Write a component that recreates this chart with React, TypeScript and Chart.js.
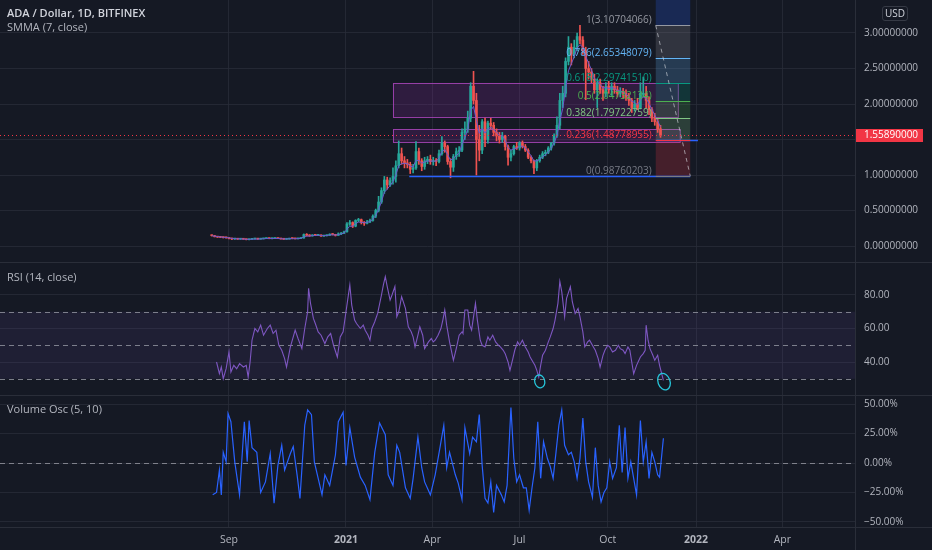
import React, { useEffect, useRef } from 'react';
import { Chart, registerables } from 'chart.js';
Chart.register(...registerables);

// ---------- styling constants ----------
const BG = '#151924';
const GRID = 'rgba(42,46,57,0.75)';
const SEP = '#2a2e39';
const TEXT = '#b2b5be';
const FONT = "'Open Sans', 'Noto Sans', sans-serif";
const W = 932;
const AXIS_W = 77;
const UP = '#26a69a';
const DOWN = '#ef5350';

// ---------- x axis (days since 2020-09-01) ----------
const X_MIN = -238.8;
const X_MAX = 652.8;
const tickDays = [0, 122, 212, 303, 395, 487, 577];
const tickLabels = ['Sep', '2021', 'Apr', 'Jul', 'Oct', '2022', 'Apr'];

// ---------- price candles (3-day candles from 2020-08-14 = day -18) ----------
const candleStartDay = -18;
const candleStepDays = 3;
const opens = [
  0.150, 0.145, 0.130, 0.125, 0.122, 0.118, 0.115, 0.106, 0.098, 0.100,
  0.096, 0.101, 0.095, 0.089, 0.094, 0.099, 0.100, 0.097, 0.101, 0.105,
  0.110, 0.104, 0.106, 0.109, 0.105, 0.099, 0.095, 0.097, 0.108, 0.104,
  0.101, 0.106, 0.112, 0.160, 0.150, 0.142, 0.155, 0.150, 0.156, 0.140,
  0.145, 0.150, 0.166, 0.160, 0.150, 0.170, 0.182, 0.200, 0.310, 0.330,
  0.280, 0.360, 0.370, 0.330, 0.320, 0.340, 0.360, 0.420, 0.500, 0.620,
  0.780, 0.930, 0.860, 0.920, 0.980, 1.130, 1.300, 1.200, 1.170, 1.150,
  1.080, 1.100, 1.330, 1.200, 1.120, 1.200, 1.220, 1.190, 1.200, 1.190,
  1.300, 1.450, 1.400, 1.190, 1.110, 1.260, 1.330, 1.350, 1.600, 1.650,
  1.800, 2.250, 2.050, 1.500, 1.350, 1.750, 1.500, 1.730, 1.700, 1.600,
  1.550, 1.500, 1.550, 1.400, 1.250, 1.300, 1.400, 1.380, 1.450, 1.400,
  1.350, 1.250, 1.200, 1.100, 1.200, 1.250, 1.300, 1.320, 1.380, 1.450,
  1.550, 1.700, 2.050, 2.150, 2.600, 2.800, 2.700, 2.800, 2.950, 2.900,
  2.750, 2.500, 2.450, 2.350, 2.200, 2.300, 2.200, 2.150, 2.250, 2.200,
  2.250, 2.200, 2.150, 2.180, 2.150, 2.100, 2.050, 1.950, 2.000, 1.950,
  2.150, 2.150, 2.050, 1.920, 1.800, 1.750, 1.650,
];
const highs = [
  0.155, 0.150, 0.135, 0.130, 0.127, 0.124, 0.118, 0.110, 0.104, 0.106,
  0.104, 0.105, 0.099, 0.097, 0.101, 0.103, 0.102, 0.103, 0.107, 0.112,
  0.113, 0.108, 0.112, 0.113, 0.107, 0.101, 0.099, 0.110, 0.112, 0.106,
  0.108, 0.115, 0.170, 0.175, 0.160, 0.160, 0.165, 0.162, 0.158, 0.148,
  0.155, 0.172, 0.175, 0.165, 0.185, 0.190, 0.210, 0.330, 0.360, 0.340,
  0.370, 0.390, 0.380, 0.345, 0.360, 0.380, 0.440, 0.520, 0.700, 0.820,
  0.980, 0.970, 0.960, 1.100, 1.200, 1.480, 1.380, 1.260, 1.220, 1.180,
  1.150, 1.470, 1.380, 1.230, 1.250, 1.260, 1.280, 1.250, 1.230, 1.350,
  1.540, 1.480, 1.420, 1.230, 1.290, 1.380, 1.400, 1.650, 1.750, 1.900,
  2.300, 2.460, 2.150, 1.700, 1.780, 1.800, 1.760, 1.800, 1.740, 1.650,
  1.600, 1.600, 1.560, 1.420, 1.350, 1.420, 1.460, 1.470, 1.480, 1.430,
  1.370, 1.270, 1.210, 1.220, 1.280, 1.330, 1.350, 1.400, 1.460, 1.580,
  1.820, 2.150, 2.250, 2.650, 2.950, 2.850, 2.900, 3.000, 3.107, 2.950,
  2.800, 2.600, 2.500, 2.420, 2.350, 2.350, 2.250, 2.300, 2.320, 2.300,
  2.300, 2.250, 2.230, 2.220, 2.200, 2.150, 2.080, 2.050, 2.080, 2.300,
  2.380, 2.250, 2.100, 1.950, 1.870, 1.800, 1.700,
];
const lows = [
  0.140, 0.128, 0.120, 0.118, 0.112, 0.110, 0.100, 0.090, 0.092, 0.094,
  0.093, 0.094, 0.086, 0.085, 0.092, 0.096, 0.094, 0.096, 0.099, 0.104,
  0.102, 0.100, 0.104, 0.103, 0.097, 0.092, 0.093, 0.096, 0.101, 0.098,
  0.100, 0.104, 0.110, 0.140, 0.135, 0.138, 0.145, 0.146, 0.136, 0.134,
  0.140, 0.148, 0.155, 0.140, 0.148, 0.160, 0.175, 0.195, 0.290, 0.260,
  0.270, 0.340, 0.310, 0.290, 0.310, 0.330, 0.350, 0.400, 0.480, 0.600,
  0.740, 0.800, 0.840, 0.870, 0.900, 1.100, 1.150, 1.100, 1.100, 1.020,
  1.030, 1.080, 1.150, 1.060, 1.080, 1.160, 1.150, 1.140, 1.130, 1.170,
  1.280, 1.320, 1.150, 0.960, 1.050, 1.220, 1.260, 1.330, 1.500, 1.600,
  1.750, 2.000, 1.000, 1.200, 1.300, 1.400, 1.450, 1.650, 1.550, 1.480,
  1.450, 1.460, 1.350, 1.140, 1.200, 1.280, 1.360, 1.350, 1.380, 1.330,
  1.230, 1.170, 1.020, 1.060, 1.180, 1.230, 1.270, 1.300, 1.350, 1.420,
  1.530, 1.650, 1.950, 2.100, 2.550, 2.550, 2.650, 2.750, 2.850, 2.700,
  2.060, 2.350, 2.300, 2.150, 1.950, 2.150, 2.050, 2.100, 2.150, 2.120,
  2.150, 2.100, 2.100, 2.080, 2.050, 1.980, 1.880, 1.900, 1.920, 1.930,
  2.100, 1.950, 1.850, 1.750, 1.700, 1.600, 1.530,
];
const closes = [
  0.145, 0.130, 0.125, 0.122, 0.118, 0.115, 0.106, 0.098, 0.100, 0.096,
  0.101, 0.095, 0.089, 0.094, 0.099, 0.100, 0.097, 0.101, 0.105, 0.110,
  0.104, 0.106, 0.109, 0.105, 0.099, 0.095, 0.097, 0.108, 0.104, 0.101,
  0.106, 0.112, 0.160, 0.150, 0.142, 0.155, 0.150, 0.156, 0.140, 0.145,
  0.150, 0.166, 0.160, 0.150, 0.170, 0.182, 0.200, 0.310, 0.330, 0.280,
  0.360, 0.370, 0.330, 0.320, 0.340, 0.360, 0.420, 0.500, 0.620, 0.780,
  0.930, 0.860, 0.920, 0.980, 1.130, 1.300, 1.200, 1.170, 1.150, 1.080,
  1.100, 1.330, 1.200, 1.120, 1.200, 1.220, 1.190, 1.200, 1.190, 1.300,
  1.450, 1.400, 1.190, 1.110, 1.260, 1.330, 1.350, 1.600, 1.650, 1.800,
  2.250, 2.050, 1.500, 1.350, 1.750, 1.500, 1.730, 1.700, 1.600, 1.550,
  1.500, 1.550, 1.400, 1.250, 1.300, 1.400, 1.380, 1.450, 1.400, 1.350,
  1.250, 1.200, 1.100, 1.200, 1.250, 1.300, 1.320, 1.380, 1.450, 1.550,
  1.700, 2.050, 2.150, 2.600, 2.800, 2.700, 2.800, 2.950, 2.900, 2.750,
  2.500, 2.450, 2.350, 2.200, 2.300, 2.200, 2.150, 2.250, 2.200, 2.250,
  2.200, 2.150, 2.180, 2.150, 2.100, 2.050, 1.950, 2.000, 1.950, 2.150,
  2.150, 2.050, 1.920, 1.800, 1.750, 1.650, 1.559,
];
const lastPrice = 1.5589;
const smmaLength = 7;

// ---------- RSI (14, close) ----------
const rsiDays = [
  -13, -10, -8, -6, -3, 0, 2, 5, 8, 11, 15, 18, 20, 22, 24, 27, 30, 33, 36, 40,
  43, 46, 49, 52, 55, 58, 60, 64, 67, 69, 72, 76, 79, 82, 83, 85, 88, 90, 93, 96,
  100, 103, 106, 109, 113, 116, 119, 122, 124, 126, 128, 131, 133, 137, 140, 142, 145, 147, 149, 152,
  155, 159, 161, 163, 165, 168, 170, 173, 175, 177, 180, 184, 187, 190, 192, 194, 197, 199, 202, 204,
  208, 211, 213, 215, 218, 221, 223, 225, 227, 230, 234, 237, 240, 243, 244, 246, 249, 251, 253, 257,
  259, 262, 264, 267, 270, 272, 275, 278, 281, 283, 286, 288, 291, 293, 296, 298, 301, 303, 306, 309,
  312, 314, 317, 319, 321, 323, 325, 327, 330, 333, 335, 338, 340, 343, 345, 347, 349, 350, 352, 356,
  358, 361, 364, 366, 369, 371, 374, 376, 380, 382, 385, 387, 390, 392, 395, 397, 400, 403, 406, 408,
  411, 413, 416, 418, 420, 422, 425, 429, 432, 434, 435, 437, 439, 442, 444, 447, 449, 453,
];
const rsiValues = [
  40, 33, 37, 30, 36, 46, 34, 38, 36, 39, 37, 38, 31, 40, 53, 60, 58, 62, 56, 60,
  62, 57, 59, 50, 47, 42, 37, 49, 55, 59, 54, 48, 60, 70, 84, 75, 66, 63, 58, 56,
  51, 55, 57, 50, 43, 55, 58, 70, 78, 86, 74, 65, 63, 60, 62, 59, 56, 53, 60, 64,
  69, 80, 86, 91, 85, 77, 80, 85, 67, 70, 79, 72, 61, 58, 55, 49, 56, 61, 56, 48,
  52, 54, 52, 53, 56, 60, 65, 71, 62, 52, 41, 48, 56, 58, 57, 71, 71, 62, 59, 75,
  65, 53, 50, 49, 55, 53, 56, 52, 50, 49, 47, 45, 40, 35, 42, 47, 52, 50, 53, 49,
  46, 43, 40, 38, 35, 31, 38, 44, 47, 52, 55, 60, 65, 75, 88, 82, 72, 67, 78, 85,
  76, 69, 72, 67, 58, 49, 52, 53, 49, 47, 42, 37, 44, 47, 50, 49, 46, 47, 50, 48,
  47, 45, 49, 47, 40, 33, 38, 43, 45, 47, 62, 53, 48, 44, 41, 44, 38, 29,
];
const rsiBandLow = 30;
const rsiMid = 50;
const rsiBandHigh = 70;
const rsiMarks = [
  { day: 324, value: 28.4 },
  { day: 453.6, value: 28.3 },
];

// ---------- Volume Oscillator (5, 10) ----------
const volDays = [
  -17, -13, -10, -8, -6, -3, -1, 2, 6, 11, 16, 19, 21, 24, 29, 33, 38, 43, 47, 51,
  55, 58, 64, 67, 71, 74, 79, 82, 86, 89, 93, 97, 100, 105, 111, 114, 119, 122, 126, 131,
  137, 142, 147, 152, 157, 163, 166, 171, 175, 178, 184, 189, 192, 197, 201, 204, 210, 215, 220, 224,
  227, 230, 236, 239, 243, 246, 251, 254, 258, 261, 264, 267, 270, 273, 276, 279, 284, 287, 290, 294,
  297, 300, 303, 307, 310, 313, 316, 319, 322, 325, 328, 332, 335, 338, 341, 344, 347, 350, 354, 357,
  360, 363, 366, 369, 372, 375, 379, 382, 385, 388, 391, 394, 397, 400, 404, 407, 410, 413, 416, 419,
  422, 425, 429, 432, 435, 438, 441, 444, 447, 449, 453,
];
const volValues = [
  -27, -25, -6, -27, 9, 1, 42, 35, 1, -27, 35, 1, 36, 13, 9, -25, -16, 8, -34, -2,
  15, -6, 8, 14, -10, -30, 32, 45, 41, 1, -13, -27, -10, -19, 7, 35, 43, -2, 30, 5,
  -12, -19, -31, 9, 34, 24, -10, -19, 15, 9, -21, -30, -13, 22, -4, -16, -27, -10, 13, 32,
  -4, 9, -10, -17, -31, 30, 8, 22, 18, 41, -2, -30, -34, -16, -42, -19, -27, -33, -19, 47,
  4, -16, -10, -21, -21, -40, -21, -4, 35, -13, 18, 4, -3, -13, 9, 32, 45, 15, 7, 9,
  1, -13, 4, 38, 1, -16, -29, 13, -19, -33, -25, -21, 1, -13, -4, 32, -8, 30, -13, 1,
  -13, -27, 36, 1, 18, -13, 9, 1, -10, -12, 21,
];

// ---------- drawings on the price pane ----------
const boxes = [
  { fromDay: 171, toDay: 468, top: 2.296, bottom: 1.817 },
  { fromDay: 171, toDay: 470, top: 1.648, bottom: 1.465 },
];
const supportLines = [
  { fromDay: 188, toDay: 481, price: 0.9876 },
  { fromDay: 446, toDay: 489, price: 1.4878 },
];
const fibLow = 0.98760203;
const fibHigh = 3.10704066;
const fibFromDay = 445;
const fibToDay = 481;
const fibLevels = [0, 0.236, 0.382, 0.5, 0.618, 0.786, 1, 1.618];
const fibColors = ['#787b86', '#f23645', '#81c784', '#4caf50', '#089981', '#64b5f6', '#9598a1', '#2962ff'];
const fibShown = [true, true, true, true, true, true, true, false];

const mainTicks = [0, 0.5, 1, 1.5, 2, 2.5, 3];
const rsiTicks = [40, 60, 80];
const volTicks = [-50, -25, 0, 25, 50];

function rgba(hex: string, a: number) {
  const n = parseInt(hex.slice(1), 16);
  return `rgba(${(n >> 16) & 255},${(n >> 8) & 255},${n & 255},${a})`;
}

function makeX(showLabels: boolean): any {
  return {
    type: 'linear',
    min: X_MIN,
    max: X_MAX,
    offset: false,
    afterBuildTicks: (s: any) => { s.ticks = tickDays.map((v) => ({ value: v })); },
    afterFit: (s: any) => { s.height = showLabels ? 23 : 0; s.paddingLeft = 0; s.paddingRight = 0; },
    grid: { color: GRID, drawTicks: false, offset: false },
    border: { display: false },
    ticks: {
      display: showLabels,
      color: TEXT,
      padding: 7,
      maxRotation: 0,
      autoSkip: false,
      font: (ctx: any) => ({ family: FONT, size: 10.5, weight: /^\d{4}$/.test(tickLabels[ctx.index] || '') ? 'bold' : 'normal' }),
      callback: (_v: any, i: number) => tickLabels[i],
    },
  };
}

function makeY(min: number, max: number, ticks: number[], fmt: (v: number) => string): any {
  return {
    type: 'linear',
    position: 'right',
    min,
    max,
    afterBuildTicks: (s: any) => { s.ticks = ticks.map((v) => ({ value: v })); },
    afterFit: (s: any) => { s.width = AXIS_W; s.paddingTop = 0; s.paddingBottom = 0; },
    grid: { color: GRID, drawTicks: false },
    border: { display: false },
    ticks: { color: TEXT, padding: 9, font: { family: FONT, size: 10 }, callback: (v: any) => fmt(Number(v)) },
  };
}

const baseOptions: any = {
  animation: false,
  responsive: false,
  maintainAspectRatio: false,
  devicePixelRatio: 1,
  events: [],
  layout: { padding: 0 },
  plugins: { legend: { display: false }, tooltip: { enabled: false } },
};

const pricePanePlugin = {
  id: 'pricePane',
  beforeDatasetsDraw(chart: any) {
    const { ctx, chartArea: a, scales } = chart;
    const x = scales.x, y = scales.y;
    ctx.save();
    ctx.beginPath();
    ctx.rect(a.left, a.top, a.right - a.left, a.bottom - a.top);
    ctx.clip();
    for (const b of boxes) {
      const x1 = x.getPixelForValue(b.fromDay), x2 = x.getPixelForValue(b.toDay);
      const y1 = y.getPixelForValue(b.top), y2 = y.getPixelForValue(b.bottom);
      ctx.fillStyle = 'rgba(156,39,176,0.2)';
      ctx.fillRect(x1, y1, x2 - x1, y2 - y1);
      ctx.strokeStyle = 'rgba(171,71,188,0.85)';
      ctx.lineWidth = 1;
      ctx.strokeRect(x1 + 0.5, y1 + 0.5, x2 - x1, y2 - y1);
    }
    // fib bands
    const fx1 = x.getPixelForValue(fibFromDay), fx2 = x.getPixelForValue(fibToDay);
    const price = (l: number) => fibLow + (fibHigh - fibLow) * l;
    for (let i = 1; i < fibLevels.length; i++) {
      const ya = y.getPixelForValue(price(fibLevels[i - 1]));
      const yb = y.getPixelForValue(price(fibLevels[i]));
      ctx.fillStyle = rgba(fibColors[i], 0.22);
      ctx.fillRect(fx1, yb, fx2 - fx1, ya - yb);
    }
    ctx.restore();
  },
  afterDatasetsDraw(chart: any) {
    const { ctx, chartArea: a, scales } = chart;
    const x = scales.x, y = scales.y;
    ctx.save();
    ctx.beginPath();
    ctx.rect(a.left, a.top, a.right - a.left, a.bottom - a.top);
    ctx.clip();
    // support lines
    for (const s of supportLines) {
      const py = Math.round(y.getPixelForValue(s.price)) + 0.5;
      ctx.strokeStyle = '#2962ff';
      ctx.lineWidth = 1.5;
      ctx.beginPath();
      ctx.moveTo(x.getPixelForValue(s.fromDay), py);
      ctx.lineTo(x.getPixelForValue(s.toDay), py);
      ctx.stroke();
    }
    // fib levels + labels
    const fx1 = x.getPixelForValue(fibFromDay), fx2 = x.getPixelForValue(fibToDay);
    ctx.font = `10px ${FONT}`;
    ctx.textAlign = 'right';
    ctx.textBaseline = 'alphabetic';
    fibLevels.forEach((l, i) => {
      if (!fibShown[i]) return;
      const p = fibLow + (fibHigh - fibLow) * l;
      const py = Math.round(y.getPixelForValue(p)) + 0.5;
      ctx.strokeStyle = fibColors[i];
      ctx.lineWidth = 1;
      ctx.setLineDash([]);
      ctx.beginPath();
      ctx.moveTo(fx1, py);
      ctx.lineTo(fx2, py);
      ctx.stroke();
      ctx.fillStyle = fibColors[i];
      ctx.fillText(`${l}(${p.toFixed(8)})`, fx1 - 4, py - 3);
    });
    // fib trend line (dashed)
    ctx.setLineDash([4, 4]);
    ctx.strokeStyle = 'rgba(209,212,220,0.65)';
    ctx.lineWidth = 1;
    ctx.beginPath();
    ctx.moveTo(fx1, y.getPixelForValue(fibHigh));
    ctx.lineTo(fx2, y.getPixelForValue(fibLow));
    ctx.stroke();
    // last price line
    const ly = Math.round(y.getPixelForValue(lastPrice)) + 0.5;
    ctx.setLineDash([1, 3]);
    ctx.strokeStyle = '#f23645';
    ctx.beginPath();
    ctx.moveTo(a.left, ly);
    ctx.lineTo(a.right, ly);
    ctx.stroke();
    ctx.restore();
  },
  afterDraw(chart: any) {
    const { ctx, chartArea: a, scales } = chart;
    const ly = scales.y.getPixelForValue(lastPrice);
    ctx.save();
    ctx.fillStyle = '#f23645';
    ctx.fillRect(a.right, Math.round(ly) - 6, 68, 13);
    ctx.fillStyle = '#ffffff';
    ctx.font = `10px ${FONT}`;
    ctx.textAlign = 'left';
    ctx.textBaseline = 'middle';
    ctx.fillText(lastPrice.toFixed(8), a.right + 9, Math.round(ly) + 0.5);
    ctx.restore();
  },
};

const rsiPanePlugin = {
  id: 'rsiPane',
  beforeDatasetsDraw(chart: any) {
    const { ctx, chartArea: a, scales } = chart;
    const y = scales.y;
    ctx.save();
    const yt = y.getPixelForValue(rsiBandHigh), yb = y.getPixelForValue(rsiBandLow);
    ctx.fillStyle = 'rgba(126,87,194,0.1)';
    ctx.fillRect(a.left, yt, a.right - a.left, yb - yt);
    ctx.setLineDash([5, 4]);
    ctx.strokeStyle = 'rgba(150,153,163,0.8)';
    ctx.lineWidth = 1;
    for (const v of [rsiBandHigh, rsiMid, rsiBandLow]) {
      const py = Math.round(y.getPixelForValue(v)) + 0.5;
      ctx.beginPath();
      ctx.moveTo(a.left, py);
      ctx.lineTo(a.right, py);
      ctx.stroke();
    }
    ctx.restore();
  },
  afterDatasetsDraw(chart: any) {
    const { ctx, scales } = chart;
    ctx.save();
    ctx.strokeStyle = '#26c6da';
    ctx.lineWidth = 1.3;
    const radii = [[5, 6.5, -0.25], [6, 8.5, -0.35]];
    rsiMarks.forEach((m, i) => {
      const cx = scales.x.getPixelForValue(m.day), cy = scales.y.getPixelForValue(m.value);
      ctx.beginPath();
      ctx.ellipse(cx, cy, radii[i][0], radii[i][1], radii[i][2], 0, Math.PI * 2);
      ctx.stroke();
    });
    ctx.restore();
  },
};

const volPanePlugin = {
  id: 'volPane',
  beforeDatasetsDraw(chart: any) {
    const { ctx, chartArea: a, scales } = chart;
    ctx.save();
    ctx.setLineDash([5, 4]);
    ctx.strokeStyle = 'rgba(150,153,163,0.8)';
    ctx.lineWidth = 1;
    const py = Math.round(scales.y.getPixelForValue(0)) + 0.5;
    ctx.beginPath();
    ctx.moveTo(a.left, py);
    ctx.lineTo(a.right, py);
    ctx.stroke();
    ctx.restore();
  },
};

function buildMain(): any {
  const days = closes.map((_, i) => candleStartDay + i * candleStepDays);
  const alpha = candleStepDays / smmaLength;
  const smma: number[] = [];
  closes.forEach((c, i) => smma.push(i === 0 ? c : smma[i - 1] + (c - smma[i - 1]) * Math.min(1, alpha)));
  const col = (i: number) => (closes[i] >= opens[i] ? UP : DOWN);
  return {
    type: 'bar',
    data: {
      datasets: [
        {
          type: 'line', data: days.map((d, i) => ({ x: d, y: smma[i] })),
          borderColor: '#6a5acd', borderWidth: 1, pointRadius: 0, tension: 0, order: 0,
        },
        {
          type: 'bar', data: days.map((d, i) => ({ x: d, y: [opens[i], closes[i]] })),
          backgroundColor: (c: any) => col(c.dataIndex), barThickness: 2, minBarLength: 1, grouped: false, order: 1,
        },
        {
          type: 'bar', data: days.map((d, i) => ({ x: d, y: [lows[i], highs[i]] })),
          backgroundColor: (c: any) => col(c.dataIndex), barThickness: 1, grouped: false, order: 2,
        },
      ],
    },
    options: {
      ...baseOptions,
      scales: {
        x: makeX(false),
        y: makeY(-16 / 71, 246 / 71, mainTicks, (v) => v.toFixed(8)),
      },
    },
    plugins: [pricePanePlugin],
  };
}

function buildRsi(): any {
  return {
    type: 'line',
    data: {
      datasets: [{
        data: rsiDays.map((d, i) => ({ x: d, y: rsiValues[i] })),
        borderColor: '#7e57c2', borderWidth: 1.1, pointRadius: 0, tension: 0,
      }],
    },
    options: {
      ...baseOptions,
      scales: { x: makeX(false), y: makeY(20.3, 99.7, rsiTicks, (v) => v.toFixed(2)) },
    },
    plugins: [rsiPanePlugin],
  };
}

function buildVol(): any {
  return {
    type: 'line',
    data: {
      datasets: [{
        data: volDays.map((d, i) => ({ x: d, y: volValues[i] })),
        borderColor: '#2962ff', borderWidth: 1.2, pointRadius: 0, tension: 0,
      }],
    },
    options: {
      ...baseOptions,
      scales: {
        x: makeX(true),
        y: makeY(-54.24, 57.63, volTicks, (v) => (v < 0 ? '\u2212' : '') + Math.abs(v).toFixed(2) + '%'),
      },
    },
    plugins: [volPanePlugin],
  };
}

const legendStyle: React.CSSProperties = {
  position: 'absolute', left: 7, fontFamily: FONT, fontSize: 11, lineHeight: '14px', color: TEXT, whiteSpace: 'nowrap',
};

export default function App() {
  const mainRef = useRef<HTMLCanvasElement>(null);
  const rsiRef = useRef<HTMLCanvasElement>(null);
  const volRef = useRef<HTMLCanvasElement>(null);

  useEffect(() => {
    document.body.style.margin = '0';
    document.body.style.background = BG;
    const charts = [
      new Chart(mainRef.current as HTMLCanvasElement, buildMain()),
      new Chart(rsiRef.current as HTMLCanvasElement, buildRsi()),
      new Chart(volRef.current as HTMLCanvasElement, buildVol()),
    ];
    return () => charts.forEach((c) => c.destroy());
  }, []);

  return (
    <div style={{ position: 'relative', width: W, height: 550, background: BG, overflow: 'hidden' }}>
      <canvas ref={mainRef} width={W} height={262} style={{ position: 'absolute', left: 0, top: 0, width: W, height: 262 }} />
      <canvas ref={rsiRef} width={W} height={133} style={{ position: 'absolute', left: 0, top: 262, width: W, height: 133 }} />
      <canvas ref={volRef} width={W} height={155} style={{ position: 'absolute', left: 0, top: 395, width: W, height: 155 }} />
      {/* separators */}
      <div style={{ position: 'absolute', left: 0, top: 262, width: W, height: 1, background: SEP }} />
      <div style={{ position: 'absolute', left: 0, top: 395, width: W, height: 1, background: SEP }} />
      <div style={{ position: 'absolute', left: 0, top: 527, width: W, height: 1, background: SEP }} />
      <div style={{ position: 'absolute', left: W - AXIS_W, top: 0, width: 1, height: 550, background: SEP }} />
      {/* legends */}
      <div style={{ ...legendStyle, top: 6, color: '#d1d4dc', fontWeight: 600 }}>ADA / Dollar, 1D, BITFINEX</div>
      <div style={{ ...legendStyle, top: 20 }}>SMMA (7, close)</div>
      <div style={{ ...legendStyle, top: 270 }}>RSI (14, close)</div>
      <div style={{ ...legendStyle, top: 402 }}>Volume Osc (5, 10)</div>
      <div style={{
        position: 'absolute', left: 882, top: 6, width: 24, height: 13, border: '1px solid #363a45', borderRadius: 3,
        fontFamily: FONT, fontSize: 10, lineHeight: '13px', color: '#d1d4dc', textAlign: 'center', boxSizing: 'content-box',
      }}>USD</div>
    </div>
  );
}
